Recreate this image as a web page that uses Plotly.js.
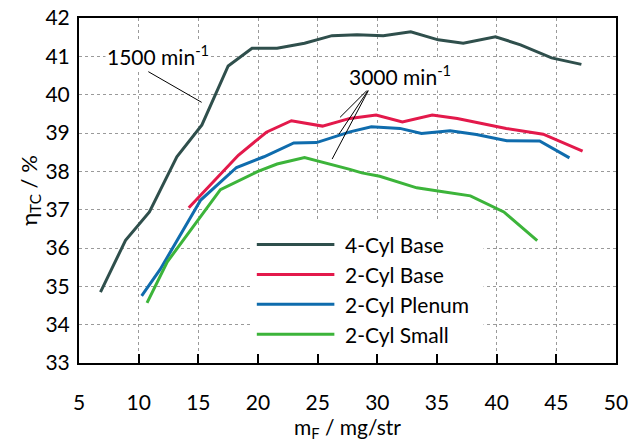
<!DOCTYPE html>
<html>
<head>
<meta charset="utf-8">
<script src="https://cdn.plot.ly/plotly-3.0.1.min.js"></script>
<style>
  html, body { margin: 0; padding: 0; background: #ffffff; }
  #chart { width: 631px; height: 442px; }
</style>
</head>
<body>
<div id="chart"></div>
<script>
// Turbocharger efficiency versus injected fuel mass per stroke
const seriesNames = ['4-Cyl Base', '2-Cyl Base', '2-Cyl Plenum', '2-Cyl Small'];
const seriesColors = ['#2f4f4c', '#e3194b', '#0f6cad', '#3cb43a'];

// 4-cylinder engine, 1500 min-1
const cyl4BaseX = [6.8, 8.9, 10.9, 13.2, 15.3, 17.5, 19.5, 21.6, 23.9, 26.2, 28.3, 30.5, 32.8, 35.1, 37.2, 39.9, 42.0, 44.6, 47.1];
const cyl4BaseY = [34.85, 36.20, 36.94, 38.38, 39.21, 40.75, 41.21, 41.21, 41.34, 41.54, 41.56, 41.54, 41.64, 41.43, 41.34, 41.51, 41.30, 40.96, 40.79];

// 2-cylinder variants, 3000 min-1
const cyl2BaseX = [14.2, 18.35, 20.7, 22.8, 25.4, 27.7, 29.9, 32.1, 34.6, 36.7, 40.8, 43.9, 47.2];
const cyl2BaseY = [37.05, 38.42, 39.02, 39.32, 39.18, 39.38, 39.47, 39.29, 39.47, 39.38, 39.12, 38.97, 38.53];

const cyl2PlenumX = [10.25, 11.8, 15.2, 18.2, 20.5, 23.0, 24.9, 27.7, 29.5, 31.9, 33.7, 36.1, 38.3, 40.85, 43.6, 46.1];
const cyl2PlenumY = [34.75, 35.44, 37.25, 38.10, 38.38, 38.74, 38.75, 39.03, 39.16, 39.12, 38.99, 39.06, 38.96, 38.80, 38.79, 38.35];

const cyl2SmallX = [10.7, 12.4, 16.85, 20.0, 21.6, 23.9, 27.7, 28.7, 30.2, 33.3, 35.5, 37.8, 40.6, 43.4];
const cyl2SmallY = [34.57, 35.64, 37.52, 38.00, 38.19, 38.36, 38.05, 37.96, 37.87, 37.57, 37.47, 37.36, 36.94, 36.19];

const xTicks = [5, 10, 15, 20, 25, 30, 35, 40, 45, 50];
const yTicks = [33, 34, 35, 36, 37, 38, 39, 40, 41, 42];

const seriesX = [cyl4BaseX, cyl2BaseX, cyl2PlenumX, cyl2SmallX];
const seriesY = [cyl4BaseY, cyl2BaseY, cyl2PlenumY, cyl2SmallY];

const traces = seriesNames.map((name, i) => ({
  type: 'scatter',
  mode: 'lines',
  name: name,
  x: seriesX[i],
  y: seriesY[i],
  line: { color: seriesColors[i], width: 3 },
  hoverinfo: 'x+y+name'
}));

const FONT = 'Lato, "Open Sans", sans-serif';

// Legend drawn in the lower middle of the plot with long line samples
const legendRows = [36.09, 35.31, 34.53, 33.75];
const shapes = [
  { type: 'rect', xref: 'x', yref: 'y', x0: 19.5, x1: 38.9, y0: 33.3, y1: 36.72,
    fillcolor: '#ffffff', line: { width: 0 }, layer: 'above' }
];
const annotations = [];
seriesNames.forEach((name, i) => {
  shapes.push({ type: 'line', xref: 'x', yref: 'y', x0: 19.9, x1: 26.4,
    y0: legendRows[i], y1: legendRows[i], line: { color: seriesColors[i], width: 3 }, layer: 'above' });
  annotations.push({ xref: 'x', yref: 'y', x: 27.1, y: legendRows[i], xanchor: 'left', yanchor: 'middle',
    text: name, showarrow: false, font: { family: FONT, size: 21, color: '#000' } });
});

// Speed labels with leader lines
annotations.push({ xref: 'x', yref: 'y', x: 11.62, y: 41.03, text: '1500 min<sup>-1</sup>',
  showarrow: false, bgcolor: '#ffffff', borderpad: 1, font: { family: FONT, size: 21, color: '#000' } });
annotations.push({ xref: 'x', yref: 'y', x: 31.9, y: 40.51, text: '3000 min<sup>-1</sup>',
  showarrow: false, bgcolor: '#ffffff', borderpad: 1, font: { family: FONT, size: 21, color: '#000' } });

const leader = (x0, y0, x1, y1) => ({ type: 'line', xref: 'x', yref: 'y', x0, y0, x1, y1,
  line: { color: '#000', width: 1 }, layer: 'above' });
shapes.push(leader(10.81, 40.60, 15.28, 39.80));
shapes.push(leader(29.39, 40.19, 26.88, 39.41));
shapes.push(leader(29.39, 40.19, 26.79, 38.97));
shapes.push(leader(29.39, 40.19, 26.21, 38.32));

const axisCommon = {
  showline: true, linecolor: '#000', linewidth: 2, mirror: true,
  showgrid: true, gridcolor: '#9a9a9a', gridwidth: 1, griddash: '3px,3px',
  zeroline: false, tickfont: { family: FONT, size: 21, color: '#000' }
};

const layout = {
  width: 631, height: 442,
  margin: { l: 79, r: 15, t: 18, b: 79 },
  paper_bgcolor: '#ffffff', plot_bgcolor: '#ffffff',
  font: { family: FONT, size: 21, color: '#000' },
  showlegend: false,
  xaxis: Object.assign({}, axisCommon, {
    range: [5, 50], tickmode: 'array', tickvals: xTicks, ticktext: xTicks.map(String),
    ticks: 'inside', ticklen: 9, tickwidth: 2, tickcolor: '#000', ticklabelstandoff: 20,
    title: { text: 'm<sub>F</sub> / mg/str', standoff: 2, font: { family: FONT, size: 21, color: '#000' } }
  }),
  yaxis: Object.assign({}, axisCommon, {
    range: [33, 42], tickmode: 'array', tickvals: yTicks, ticktext: yTicks.map(String),
    ticks: '', ticklabelstandoff: 3,
    title: { text: 'η<sub>TC</sub> / %', standoff: 2, font: { family: FONT, size: 22, color: '#000' } }
  }),
  shapes: shapes,
  annotations: annotations
};

Plotly.newPlot('chart', traces, layout, { displayModeBar: false, staticPlot: true });
</script>
</body>
</html>
